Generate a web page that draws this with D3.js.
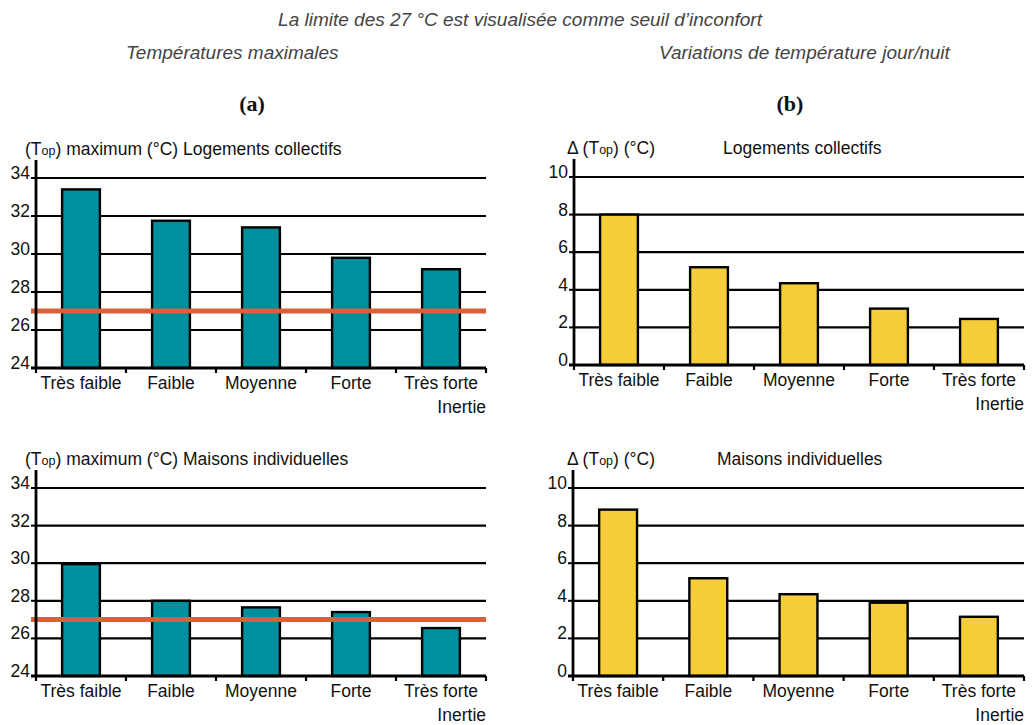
<!DOCTYPE html>
<html>
<head>
<meta charset="utf-8">
<script src="https://cdn.jsdelivr.net/npm/d3@7"></script>
<style>
  html, body { margin: 0; padding: 0; background: #fff; }
  svg { display: block; }
  text { font-family: "Liberation Sans", Arial, sans-serif; }
</style>
</head>
<body>
<svg id="chart" width="1032" height="725"></svg>
<script>
// ---- Data ----
const categories = ["Très faible", "Faible", "Moyenne", "Forte", "Très forte"];
const tmaxCollectifs = [33.4, 31.75, 31.4, 29.8, 29.2];
const tmaxMaisons = [29.95, 28.0, 27.65, 27.4, 26.55];
const deltaCollectifs = [8.0, 5.2, 4.35, 3.0, 2.45];
const deltaMaisons = [8.85, 5.2, 4.35, 3.9, 3.15];
const ticksTmax = [24, 26, 28, 30, 32, 34];
const ticksDelta = [0, 2, 4, 6, 8, 10];
const seuil = 27;

const headerText = "La limite des 27 °C est visualisée comme seuil d’inconfort";
const subtitleA = "Températures maximales";
const subtitleB = "Variations de température jour/nuit";
const axisNote = "Inertie";

const svg = d3.select("#chart");

// ---- Header ----
svg.append("text").attr("x", 520).attr("y", 26).attr("text-anchor", "middle")
  .attr("font-style", "italic").attr("font-size", 19).attr("fill", "#444")
  .text(headerText);
svg.append("text").attr("x", 126).attr("y", 59)
  .attr("font-style", "italic").attr("font-size", 19).attr("fill", "#444")
  .text(subtitleA);
svg.append("text").attr("x", 659).attr("y", 59)
  .attr("font-style", "italic").attr("font-size", 19).attr("fill", "#444")
  .text(subtitleB);
svg.append("text").attr("x", 252).attr("y", 111).attr("text-anchor", "middle")
  .style("font-family", "'Liberation Serif', serif").attr("font-weight", "bold")
  .attr("font-size", 22).attr("fill", "#111").text("(a)");
svg.append("text").attr("x", 790).attr("y", 111).attr("text-anchor", "middle")
  .style("font-family", "'Liberation Serif', serif").attr("font-weight", "bold")
  .attr("font-size", 22).attr("fill", "#111").text("(b)");

// ---- Panel drawing ----
function panel(cfg) {
  const g = svg.append("g");
  const x = d3.scaleBand().domain(categories).range([cfg.x0, cfg.x1])
    .paddingInner(0.58).paddingOuter(0.29);
  const y = d3.scaleLinear().domain(cfg.domain).range([cfg.yBot, cfg.yTop]);
  const step = x.step();
  const off = (step - x.bandwidth()) / 2;

  // gridlines
  g.selectAll(".grid").data(cfg.ticks.slice(1)).join("line")
    .attr("x1", cfg.x0).attr("x2", cfg.x1)
    .attr("y1", d => y(d)).attr("y2", d => y(d))
    .attr("stroke", "#000").attr("stroke-width", 2.2);

  // bars
  g.selectAll(".bar").data(cfg.values).join("rect")
    .attr("x", (d, i) => x(categories[i]))
    .attr("width", x.bandwidth())
    .attr("y", d => y(d))
    .attr("height", d => y(cfg.domain[0]) - y(d))
    .attr("fill", cfg.color).attr("stroke", "#000").attr("stroke-width", 2.4);

  // threshold line
  if (cfg.threshold !== undefined) {
    g.append("line").attr("x1", cfg.x0 - 5).attr("x2", cfg.x1)
      .attr("y1", y(cfg.threshold)).attr("y2", y(cfg.threshold))
      .attr("stroke", "#d9603b").attr("stroke-width", 5);
  }

  // y axis line
  g.append("line").attr("x1", cfg.x0).attr("x2", cfg.x0)
    .attr("y1", cfg.yTop - 18).attr("y2", cfg.yBot + 1)
    .attr("stroke", "#000").attr("stroke-width", 2.8);
  // y ticks
  g.selectAll(".yt").data(cfg.ticks).join("line")
    .attr("x1", cfg.x0 - 5).attr("x2", cfg.x0)
    .attr("y1", d => y(d)).attr("y2", d => y(d))
    .attr("stroke", "#000").attr("stroke-width", 2);
  g.selectAll(".yl").data(cfg.ticks).join("text")
    .attr("x", cfg.x0 - 6).attr("y", d => y(d) + 1)
    .attr("text-anchor", "end").attr("font-size", 17.5).attr("fill", "#111")
    .text(d => d);

  // x axis line
  g.append("line").attr("x1", cfg.x0 - 5).attr("x2", cfg.x1)
    .attr("y1", cfg.yBot).attr("y2", cfg.yBot)
    .attr("stroke", "#000").attr("stroke-width", 2.8);
  const bounds = categories.map(c => x(c) - off).concat([cfg.x1]);
  g.selectAll(".xt").data(bounds).join("line")
    .attr("x1", d => d).attr("x2", d => d)
    .attr("y1", cfg.yBot).attr("y2", cfg.yBot + 5)
    .attr("stroke", "#000").attr("stroke-width", 2.2);
  g.selectAll(".xl").data(categories).join("text")
    .attr("x", c => x(c) + x.bandwidth() / 2)
    .attr("y", cfg.yBot + 21)
    .attr("text-anchor", "middle").attr("font-size", 17.5).attr("fill", "#111")
    .text(c => c);
  g.append("text").attr("x", cfg.x1).attr("y", cfg.yBot + 45)
    .attr("text-anchor", "end").attr("font-size", 17.5).attr("fill", "#111")
    .text(axisNote);

  // titles
  const t = g.append("text").attr("x", cfg.titleX).attr("y", cfg.yTop - 23)
    .attr("font-size", 17.5).attr("fill", "#111");
  if (cfg.delta) t.append("tspan").text("Δ ");
  t.append("tspan").text("(T");
  t.append("tspan").attr("font-size", 12.5).text("op");
  t.append("tspan").text(cfg.delta ? ") (°C)" : ") maximum (°C) " + cfg.name);
  if (cfg.delta) {
    g.append("text").attr("x", cfg.nameX).attr("y", cfg.yTop - 23)
      .attr("font-size", 17.5).attr("fill", "#111").text(cfg.name);
  }
}

panel({ x0: 36, x1: 486, yTop: 178, yBot: 368, domain: [24, 34], ticks: ticksTmax,
  values: tmaxCollectifs, color: "#00909d", threshold: seuil,
  titleX: 25, name: "Logements collectifs" });
panel({ x0: 36, x1: 486, yTop: 488, yBot: 676, domain: [24, 34], ticks: ticksTmax,
  values: tmaxMaisons, color: "#00909d", threshold: seuil,
  titleX: 25, name: "Maisons individuelles" });
panel({ x0: 574, x1: 1024, yTop: 177, yBot: 365, domain: [0, 10], ticks: ticksDelta,
  values: deltaCollectifs, color: "#f5cd3a", delta: true,
  titleX: 567, nameX: 723, name: "Logements collectifs" });
panel({ x0: 573, x1: 1024, yTop: 488, yBot: 676, domain: [0, 10], ticks: ticksDelta,
  values: deltaMaisons, color: "#f5cd3a", delta: true,
  titleX: 567, nameX: 717, name: "Maisons individuelles" });
</script>
</body>
</html>
